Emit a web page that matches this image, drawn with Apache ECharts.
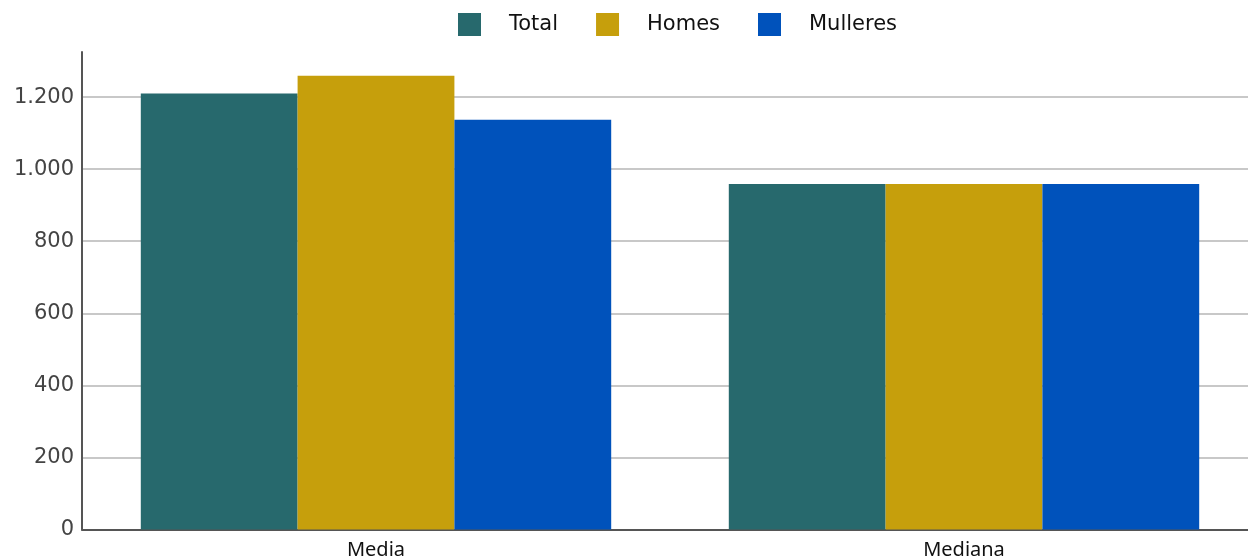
<!DOCTYPE html>
<html><head><meta charset="utf-8">
<script src="https://cdn.jsdelivr.net/npm/echarts@6/dist/echarts.min.js"></script>
<style>html,body{margin:0;padding:0;background:#fff}#c{width:1248px;height:560px}</style>
</head><body><div id="c"></div>
<script>
const categories = ['Media', 'Mediana'];
const seriesNames = ['Total', 'Homes', 'Mulleres'];
const totalValues = [1210, 959];
const homesValues = [1259, 959];
const mulleresValues = [1137, 959];
const colors = ['#27696D', '#C69F0C', '#0052BB'];

const chart = echarts.init(document.getElementById('c'));
const values = [totalValues, homesValues, mulleresValues];
chart.setOption({
  animation: false,
  textStyle: {fontFamily: 'Noto Sans'},
  legend: {
    top: 8, left: 453, itemWidth: 23, itemHeight: 23, itemGap: 38,
    icon: 'rect',
    textStyle: {fontFamily: 'DejaVu Sans', fontSize: 21, color: '#111', padding: [4, 0, 0, 23]},
    data: seriesNames
  },
  grid: {left: 82, top: 52, width: 1176, bottom: 30.5, containLabel: false, outerBoundsMode: 'none'},
  xAxis: {
    type: 'category', data: categories,
    axisLine: {lineStyle: {color: '#555', width: 2}},
    axisTick: {show: false},
    axisLabel: {fontSize: 20, color: '#111', margin: 11}
  },
  yAxis: {
    type: 'value', min: 0, max: 1325, interval: 200,
    axisLine: {show: true, lineStyle: {color: '#555', width: 2}},
    axisTick: {show: false},
    axisLabel: {fontFamily: 'DejaVu Sans', fontSize: 21, color: '#444', margin: 8, showMaxLabel: false,
      formatter: v => v % 200 === 0 ? v.toLocaleString('de-DE') : ''},
    splitLine: {show: true, showMaxLine: false, lineStyle: {color: '#c8c8c8', width: 2}}
  },
  series: seriesNames.map((n, i) => ({
    name: n, type: 'bar', data: values[i], barGap: '0%', barCategoryGap: '20%',
    itemStyle: {color: colors[i]}
  }))
});
</script></body></html>
